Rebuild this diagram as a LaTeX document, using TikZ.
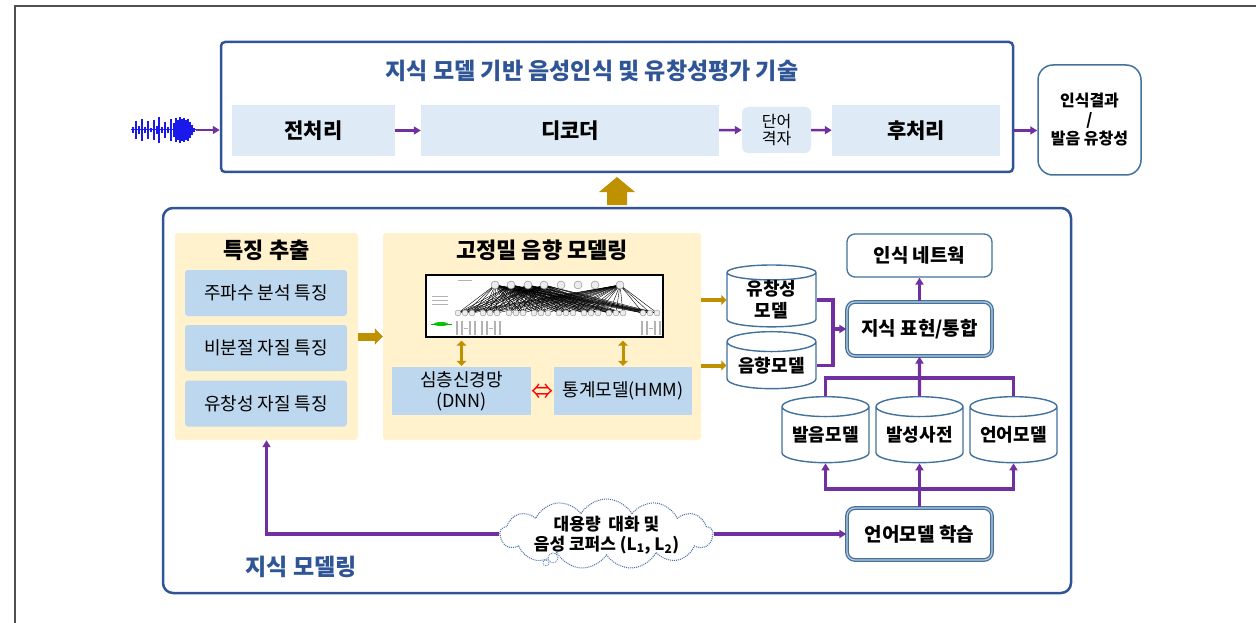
\documentclass[tikz,border=0pt]{standalone}
\usepackage{fontspec}
\setmainfont{Noto Sans CJK KR}
\usepackage{tikz}
\usetikzlibrary{shapes.geometric,shapes.symbols,arrows.meta,positioning}

\definecolor{frameblue}{RGB}{47,85,151}
\definecolor{edgeblue}{RGB}{65,113,156}
\definecolor{flowpurple}{RGB}{112,48,160}
\definecolor{mustard}{RGB}{191,144,0}
\definecolor{paleyellow}{RGB}{255,242,204}
\definecolor{stagefill}{RGB}{222,235,247}
\definecolor{featfill}{RGB}{189,215,238}
\definecolor{wavblue}{RGB}{25,25,235}
\definecolor{framegray}{RGB}{80,80,80}
\definecolor{cloudblue}{RGB}{70,110,170}

\tikzset
{
    outerbox/.style  = {draw=frameblue, line width=2.5pt, inner sep=0pt},
    headline/.style  = {text=frameblue, font=\fontsize{23}{26}\selectfont\bfseries},
    stagebox/.style  = {fill=stagefill, minimum height=51pt, inner sep=0pt, font=\fontsize{21}{24}\selectfont\bfseries},
    resultbox/.style = {draw=edgeblue, line width=1.5pt, rounded corners=15pt, align=center, inner sep=0pt, font=\fontsize{16}{19}\selectfont\bfseries},
    panel/.style     = {fill=paleyellow, rounded corners=3pt, minimum width=183pt, minimum height=207pt, inner sep=0pt},
    paneltitle/.style= {font=\fontsize{22}{25}\selectfont\bfseries},
    featbox/.style   = {fill=featfill, rounded corners=3pt, minimum width=162pt, minimum height=46pt, inner sep=0pt, align=center, font=\fontsize{18}{21}\selectfont},
    dbcyl/.style     = {cylinder, shape border rotate=90, aspect=0.3, draw=edgeblue, fill=white, line width=1.4pt, inner sep=0pt, align=center, font=\fontsize{18}{22}\selectfont\bfseries},
    modbox/.style    = {draw=edgeblue, fill=white, line width=1.3pt, rounded corners=8pt, minimum width=145pt, inner sep=0pt, font=\fontsize{19}{22}\selectfont\bfseries},
    keybox/.style    = {modbox, double=edgeblue!35, double distance=1.2pt},
    flow/.style      = {draw=flowpurple, line width=2.4pt, ->},
    bus/.style       = {draw=flowpurple, line width=3.2pt},
    goldthick/.style = {draw=mustard, line width=8pt, -{Triangle[length=8pt,width=16pt]}},
    goldthin/.style  = {draw=mustard, line width=4pt, -{Triangle[length=5pt,width=10pt]}},
    golddbl/.style   = {draw=mustard, line width=3pt, {Triangle[length=5pt,width=10pt]}-{Triangle[length=5pt,width=10pt]}}
}

\begin{document}
\begin{tikzpicture}[x=1pt, y=-1pt, >={Triangle[length=7pt,width=8pt]}]
    \useasboundingbox (0,0) rectangle (1256,623);
    \draw [framegray, line width=1.5pt] (15,623) -- (15,6) -- (1256,6);

    % recognition pipeline
    \node [outerbox, rounded corners=4pt, minimum width=792pt, minimum height=130pt] (sys) at (617,107) {};
    \node [headline] (systitle) at (592,71) {지식 모델 기반 음성인식 및 유창성평가 기술};
    \node [stagebox, minimum width=163pt] (pre) at (313.5,130.5) {전처리};
    \node [stagebox, minimum width=298pt] (dec) at (570,130.5) {디코더};
    \node [stagebox, minimum width=69pt, minimum height=46pt, rounded corners=6pt, align=center, font=\fontsize{16}{17}\selectfont] (lat) at (776.5,130) {단어\\격자};
    \node [stagebox, minimum width=168pt] (post) at (916,130.5) {후처리};
    \node [resultbox, minimum width=103pt, minimum height=110pt] (res) at (1089.5,120) {인식결과\\/\\발음 유창성};

    \foreach \x/\h in {133/3,136/9,139/4,142/11,145/3,148/9,151/2,154/10,157/4,159/13,162/3,165/8,168/3,171/11,174/7,176/12,178/10,180/13,182/11,184/12,186/10,188/11,190/8,192/5,194/2}
        \draw [wavblue, line width=1.4pt] (\x,130-\h) -- (\x,130+\h);
    \draw [wavblue, line width=1pt] (131,130) -- (196,130);
    \coordinate (wave) at (196,130);

    \draw [flow] (wave) -- (wave -| sys.west);
    \draw [flow] (pre) -- (dec);
    \draw [flow] (dec) -- (lat);
    \draw [flow] (lat) -- (post);
    \draw [flow] (post.east -| sys.east) -- (post.east -| res.west);

    \coordinate (uptip) at (617,177);
    \fill [mustard] (uptip) -- (635,192) -- (627,192) -- (627,205) -- (607,205) -- (607,192) -- (599,192) -- cycle;

    % knowledge modelling
    \node [outerbox, rounded corners=10pt, minimum width=908pt, minimum height=385pt] (kmod) at (617,400.5) {};
    \node [headline] (kmodtitle) at (301,567) {지식 모델링};

    \node [panel] (feat) at (266.5,336.5) {};
    \node [paneltitle] (feattitle) at (266.5,250) {특징 추출};
    \node [featbox] (f1) at (266,293) {주파수 분석 특징};
    \node [featbox] (f2) at (266,348) {비분절 자질 특징};
    \node [featbox] (f3) at (266,403.5) {유창성 자질 특징};

    \node [panel, minimum width=318pt] (acou) at (542,336.5) {};
    \node [paneltitle] (acoutitle) at (542,250) {고정밀 음향 모델링};
    \node [draw=black, fill=white, line width=1.3pt, minimum width=237pt, minimum height=62pt, inner sep=0pt] (dnnimg) at (544.5,306) {};
    \foreach \t in {495,511,528,544,620}
        \foreach \b in {458,465,472,483,490,497,509,516,523,534,541,548,559,566,573,584,591,598,609,616,623,643,650,657}
            \draw [black, line width=0.4pt] (\t,285) -- (\b,313);
    \foreach \t in {495,511,528,544,561,578,595,620}
        \draw [draw=gray, fill=gray!15, line width=0.4pt] (\t,285) circle (4pt);
    \foreach \b in {458,465,472,483,490,497,509,516,523,534,541,548,559,566,573,584,591,598,609,616,623,643,650,657}
        \draw [draw=gray, fill=gray!15, line width=0.3pt] (\b,313) circle (3pt);
    \foreach \s in {456,481,641}
    {
        \fill [gray!60] (\s,321) rectangle ++(2,14);
        \fill [gray!60] (\s+5,321) rectangle ++(2,14);
        \fill [gray!60] (\s+13,321) rectangle ++(2,14);
        \fill [gray!60] (\s+18,321) rectangle ++(2,14);
        \draw [gray!60, line width=0.6pt] (\s+8,328) -- (\s+12,328);
    }
    \fill [green!80!black] (441,324) ellipse (7pt and 2pt);
    \draw [green!70!black, line width=0.5pt] (431,324) -- (452,324);
    \foreach \y in {296,300,304}
        \draw [gray!60, line width=0.5pt] (432,\y) -- (448,\y);
    \draw [gray!60, line width=0.5pt] (458,280) -- (472,280);

    \node [featbox, minimum width=139pt, minimum height=48pt, rounded corners=0pt] (dnn) at (461.5,391) {심층신경망\\(DNN)};
    \node [featbox, minimum width=138pt, minimum height=48pt, rounded corners=0pt] (hmm) at (623,391) {통계모델(HMM)};
    \node [text=red, inner sep=0pt, font=\fontsize{22}{22}\selectfont] (dnnhmm) at (542,392) {⇔};
    \draw [golddbl, shorten <=3pt, shorten >=1pt] (dnnimg.south -| dnn.north) -- (dnn.north);
    \draw [golddbl, shorten <=3pt, shorten >=1pt] (dnnimg.south -| hmm.north) -- (hmm.north);
    \draw [goldthick] (feat) -- (acou);

    \node [dbcyl, minimum width=89pt, minimum height=60pt] (flu) at (771.5,300) {유창성\\모델};
    \node [dbcyl, minimum width=89pt, minimum height=57pt] (am) at (771.5,365.5) {음향모델};
    \draw [goldthin] (flu.west -| acou.east) -- (flu.west);
    \draw [goldthin] (am.west -| acou.east) -- (am.west);

    \node [modbox, minimum height=43pt] (net) at (919.5,255.5) {인식 네트웍};
    \node [keybox, minimum height=54pt] (know) at (919.5,329) {지식 표현/통합};
    \node [keybox, minimum height=52pt] (learn) at (919.5,534) {언어모델 학습};

    \node [dbcyl, minimum width=87pt, minimum height=66pt] (pron) at (825.5,435) {발음모델};
    \node [dbcyl, minimum width=87pt, minimum height=66pt] (dict) at (919.5,435) {발성사전};
    \node [dbcyl, minimum width=87pt, minimum height=66pt] (lm) at (1013.5,435) {언어모델};

    \coordinate (join) at (833,329);
    \draw [bus] (flu.east) -| (join);
    \draw [bus] (am.east) -| (join);
    \draw [flow, line width=3.2pt] (join) -- (know.west);
    \draw [flow, line width=3.2pt] (know) -- (net);

    \coordinate (upbus) at (919.5,378);
    \draw [bus] (pron.north) |- (upbus) -| (lm.north);
    \draw [flow, line width=3.2pt] (dict.north) -- (know.south);

    \coordinate (downbus) at (919.5,489);
    \draw [bus] (learn.north) -- (downbus);
    \draw [flow, line width=3.2pt] (downbus) -| (pron.south);
    \draw [flow, line width=3.2pt] (downbus) -| (lm.south);
    \draw [flow, line width=3.2pt] (downbus) -- (dict.south);

    % corpus cloud
    \node [cloud, cloud puffs=13, cloud puff arc=120, aspect=3.2, draw=cloudblue, densely dotted, line width=1pt, fill=white, minimum width=213pt, minimum height=70pt, inner sep=0pt] (corpus) at (606.5,534) {};
    \draw [cloudblue, densely dotted, line width=0.8pt, fill=white] (553,558) circle (5pt);
    \draw [cloudblue, densely dotted, line width=0.8pt, fill=white] (546,563) circle (3pt);
    \node [align=center, font=\fontsize{17}{20}\selectfont\bfseries] (corpustext) at (606.5,535) {대용량~~대화 및\\음성 코퍼스 (L\textsubscript{1}, L\textsubscript{2})};
    \draw [flow, line width=3.2pt] (corpus.west) -| (feat.south);
    \draw [flow, line width=3.2pt] (corpus.east) -- (corpus.east -| learn.west);
\end{tikzpicture}
\end{document}
